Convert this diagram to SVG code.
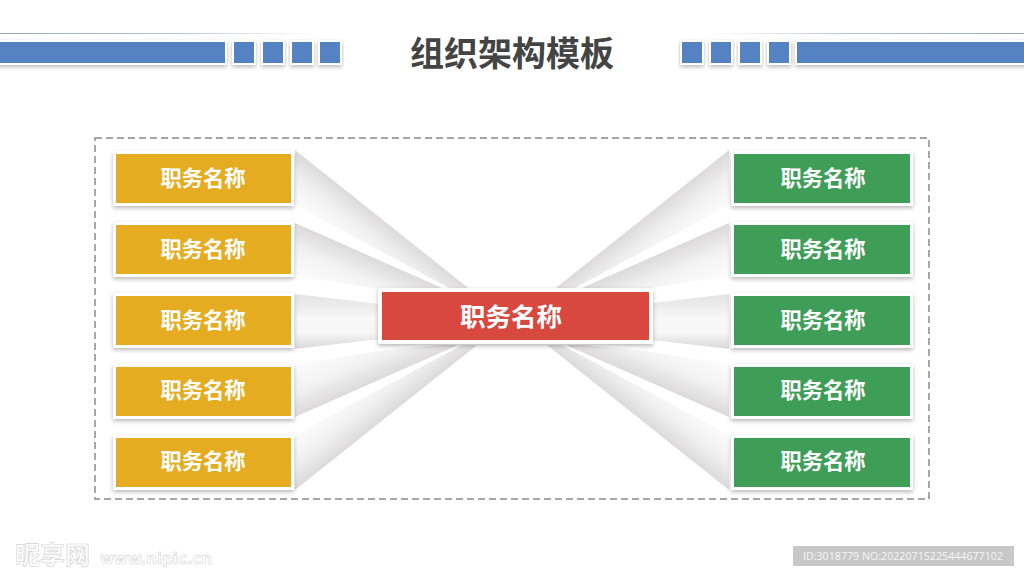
<svg xmlns="http://www.w3.org/2000/svg" width="1024" height="576" viewBox="0 0 1024 576">
<style>
.o{fill:#fff;filter:url(#sh)}
.y{fill:#e5ac22}.g{fill:#3e9e58}.r{fill:#d9483f}
.b{fill:#5482c2;stroke:#fff;stroke-width:2;filter:url(#sh)}
.t{font-family:"Noto Sans CJK SC","Liberation Sans",sans-serif;font-weight:700;fill:#fff;text-anchor:middle;font-size:21.3px}
</style>
<defs>
<filter id="sh" x="-10%" y="-20%" width="120%" height="150%"><feDropShadow dx="0" dy="2" stdDeviation="2" flood-color="#000" flood-opacity=".28"/></filter>
<linearGradient id="g5" gradientUnits="userSpaceOnUse" x1="386" y1="417" x2="359" y2="383"><stop offset="0" stop-color="#dcdada"/><stop offset=".45" stop-color="#f0f0f0"/><stop offset="1" stop-color="#fcfcfc"/></linearGradient>
<linearGradient id="g4" gradientUnits="userSpaceOnUse" x1="376" y1="381" x2="356" y2="335"><stop offset="0" stop-color="#dcdada"/><stop offset=".45" stop-color="#f2f2f2"/><stop offset="1" stop-color="#fdfdfd"/></linearGradient>
<linearGradient id="g3" gradientUnits="userSpaceOnUse" x1="0" y1="294" x2="0" y2="349"><stop offset="0" stop-color="#e2e2e2"/><stop offset=".45" stop-color="#f8f8f8"/><stop offset=".7" stop-color="#f6f6f6"/><stop offset="1" stop-color="#dad8d8"/></linearGradient>
<linearGradient id="fl" x1="0" y1="0" x2="1" y2="0"><stop offset="0" stop-color="#8fa6c8"/><stop offset=".55" stop-color="#b4c3da"/><stop offset="1" stop-color="#fff"/></linearGradient>
<linearGradient id="fr" x1="1" y1="0" x2="0" y2="0"><stop offset="0" stop-color="#8fa6c8"/><stop offset=".55" stop-color="#b4c3da"/><stop offset="1" stop-color="#fff"/></linearGradient>
<g id="low">
<polygon fill="url(#g5)" points="295,435 295,490 477,345 462,345"/>
<polygon fill="url(#g4)" points="295,364 295,417 458,345 440,345 378,351"/>
</g>
<g id="fan">
<use href="#low"/>
<use href="#low" transform="translate(0,640) scale(1,-1)"/>
<polygon fill="url(#g3)" points="295,294 380,304 380,339 295,349"/>
</g>
</defs>
<rect width="1024" height="576" fill="#fff"/>
<g id="header">
<rect x="0" y="33" width="315" height="1" fill="url(#fl)"/>
<rect x="709" y="33" width="315" height="1" fill="url(#fr)"/>
<rect class="b" x="-3" y="41" width="229" height="23"/>
<rect class="b" x="233" y="41" width="22" height="23"/>
<rect class="b" x="262" y="41" width="22" height="23"/>
<rect class="b" x="291" y="41" width="22" height="23"/>
<rect class="b" x="319" y="41" width="22" height="23"/>
<rect class="b" x="681" y="41" width="22" height="23"/>
<rect class="b" x="710" y="41" width="22" height="23"/>
<rect class="b" x="739" y="41" width="22" height="23"/>
<rect class="b" x="768" y="41" width="22" height="23"/>
<rect class="b" x="796" y="41" width="231" height="23"/>
<text x="512" y="66" font-family="'Noto Sans CJK SC',sans-serif" font-weight="700" font-size="34" fill="#444" text-anchor="middle">组织架构模板</text>
</g>
<rect id="frame" x="95" y="138" width="834" height="361" fill="none" stroke="#a6a6a6" stroke-width="2" stroke-dasharray="7 4"/>
<g id="connectors">
<use href="#fan"/>
<use href="#fan" transform="translate(1024,0) scale(-1,1)"/>
</g>
<g id="l1"><rect class="o" x="113" y="151" width="181" height="55"/><rect class="y" x="116" y="154" width="175" height="49"/><text class="t" x="203" y="186">职务名称</text></g>
<g id="l2"><rect class="o" x="113" y="222" width="181" height="55"/><rect class="y" x="116" y="225" width="175" height="49"/><text class="t" x="203" y="257">职务名称</text></g>
<g id="l3"><rect class="o" x="113" y="293" width="181" height="55"/><rect class="y" x="116" y="296" width="175" height="49"/><text class="t" x="203" y="328">职务名称</text></g>
<g id="l4"><rect class="o" x="113" y="364" width="181" height="55"/><rect class="y" x="116" y="367" width="175" height="49"/><text class="t" x="203" y="398">职务名称</text></g>
<g id="l5"><rect class="o" x="113" y="435" width="181" height="55"/><rect class="y" x="116" y="438" width="175" height="49"/><text class="t" x="203" y="469">职务名称</text></g>
<g id="r1"><rect class="o" x="731" y="151" width="182" height="55"/><rect class="g" x="734" y="154" width="176" height="49"/><text class="t" x="823" y="186">职务名称</text></g>
<g id="r2"><rect class="o" x="731" y="222" width="182" height="55"/><rect class="g" x="734" y="225" width="176" height="49"/><text class="t" x="823" y="257">职务名称</text></g>
<g id="r3"><rect class="o" x="731" y="293" width="182" height="55"/><rect class="g" x="734" y="296" width="176" height="49"/><text class="t" x="823" y="328">职务名称</text></g>
<g id="r4"><rect class="o" x="731" y="364" width="182" height="55"/><rect class="g" x="734" y="367" width="176" height="49"/><text class="t" x="823" y="398">职务名称</text></g>
<g id="r5"><rect class="o" x="731" y="435" width="182" height="55"/><rect class="g" x="734" y="438" width="176" height="49"/><text class="t" x="823" y="469">职务名称</text></g>
<g id="center"><rect class="o" x="378" y="288" width="275" height="56"/><rect class="r" x="382" y="292" width="267" height="48"/><text class="t" x="511" y="326" style="font-size:25.5px">职务名称</text></g>
<g id="watermark">
<text x="15" y="564" font-family="'Noto Sans CJK SC',sans-serif" font-weight="700" font-size="25" fill="#fff" stroke="#d4d4d4" stroke-width=".7">昵享网</text>
<text x="100" y="564" font-family="'DejaVu Sans',sans-serif" font-weight="700" font-size="15" fill="#fff" stroke="#d4d4d4" stroke-width=".6">www.nipic.cn</text>
<rect x="793" y="546" width="221" height="20" fill="#c8c8c8"/>
<text x="803" y="560" font-family="'Open Sans',sans-serif" font-size="11" fill="#f4f4f4" textLength="200" lengthAdjust="spacingAndGlyphs">ID:3018779 NO:20220715225444677102</text>
</g>
</svg>
